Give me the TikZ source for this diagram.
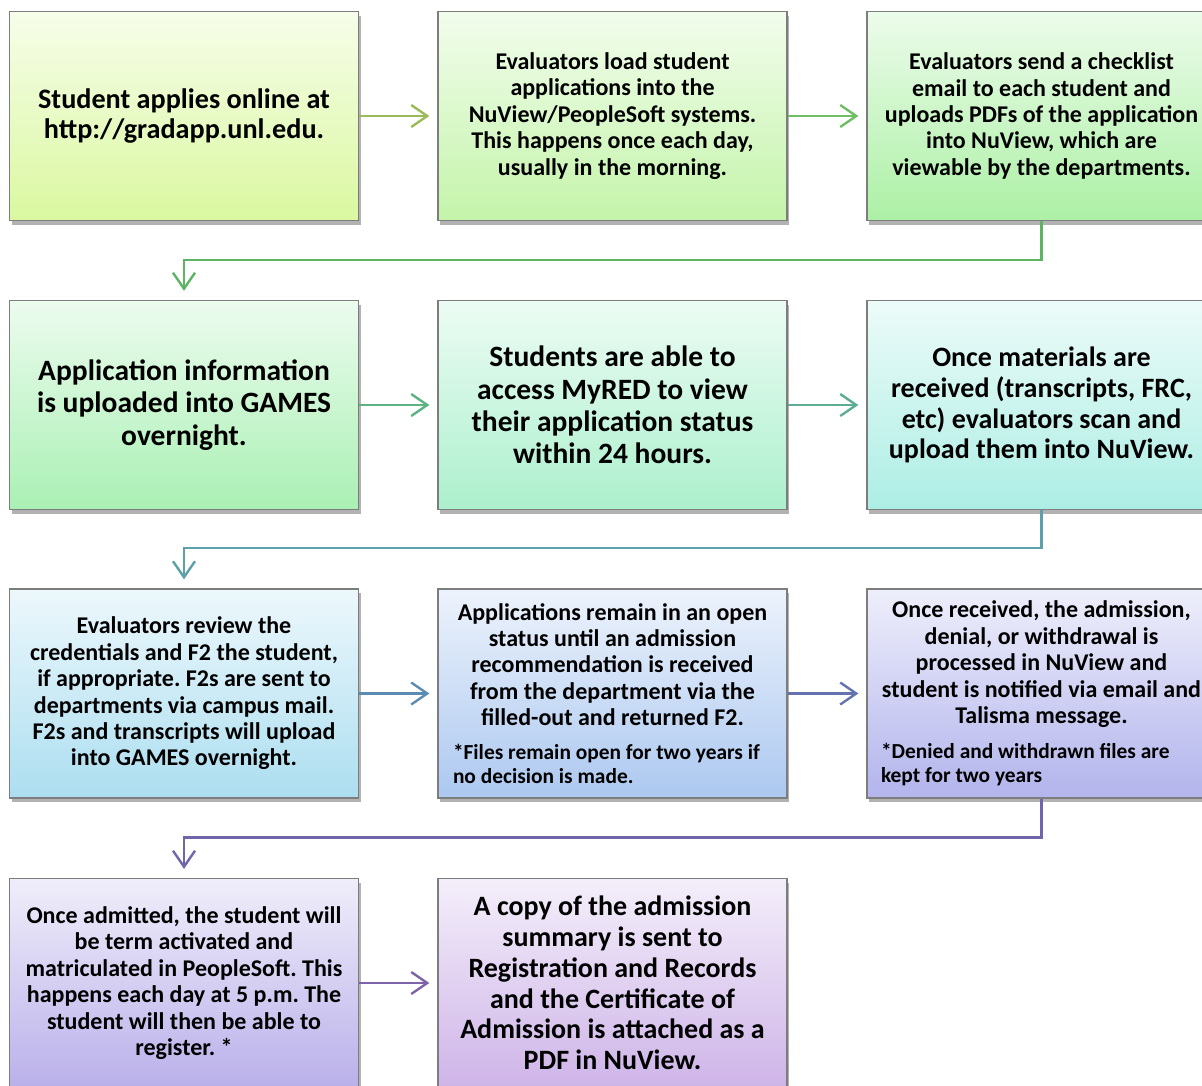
\documentclass[tikz,border=0pt]{standalone}
\usepackage{fontspec}
\setmainfont{Carlito}
\usetikzlibrary{arrows.meta,shadows}
\frenchspacing

\definecolor{boxA}{RGB}{218,248,160}
\definecolor{boxB}{RGB}{196,244,170}
\definecolor{boxC}{RGB}{172,240,165}
\definecolor{boxD}{RGB}{170,240,180}
\definecolor{boxE}{RGB}{172,240,205}
\definecolor{boxF}{RGB}{172,238,228}
\definecolor{boxG}{RGB}{172,222,240}
\definecolor{boxH}{RGB}{172,200,240}
\definecolor{boxI}{RGB}{178,180,236}
\definecolor{boxJ}{RGB}{186,176,234}
\definecolor{boxK}{RGB}{206,180,232}
\definecolor{lineA}{RGB}{155,187,89}
\definecolor{lineB}{RGB}{112,190,100}
\definecolor{lineC}{RGB}{92,180,100}
\definecolor{lineD}{RGB}{92,178,130}
\definecolor{lineE}{RGB}{92,172,150}
\definecolor{lineF}{RGB}{92,160,170}
\definecolor{lineG}{RGB}{92,140,180}
\definecolor{lineH}{RGB}{100,115,175}
\definecolor{lineI}{RGB}{112,100,170}
\definecolor{lineJ}{RGB}{125,100,170}
\definecolor{rim}{RGB}{125,125,125}

\newcommand{\fixedspace}{\spaceskip=\fontdimen2\font\relax\xspaceskip=\fontdimen2\font\relax}
\newcommand{\printsize}[2]{\bfseries\fontsize{#1}{#2}\selectfont}
\newcommand{\notetext}{\hyphenpenalty=10000\printsize{21.4}{24.5}\fixedspace}

\tikzset{
  stage/.style={draw=rim,line width=1.3pt,minimum width=349pt,minimum height=209pt,
    text width=345pt,align=center,inner sep=0pt,
    execute at begin node={\fixedspace},
    drop shadow={shadow xshift=2pt,shadow yshift=-4pt,opacity=0.3,fill=black}},
  tint/.style={top color=#1!22!white,bottom color=#1},
  small print/.style={font=\printsize{24}{26.4}},
  mid print/.style={font=\printsize{28}{30.8}},
  large print/.style={font=\printsize{29.5}{32.4}},
  flow/.style={line width=2.4pt,draw=#1,-{Straight Barb[length=16pt,width=22pt,line width=2.4pt]}},
}

\begin{document}
\begin{tikzpicture}[x=1pt,y=-1pt]
    \clip (0,0) rectangle (1202,1085);
    %% Row 1
    \node[stage,tint=boxA,font=\printsize{28.2}{30}] (apply) at (184,116) {Student applies online at\\ http://gradapp.unl.edu.};
    \node[stage,tint=boxB,small print] (load) at (612.5,116) {Evaluators load student\\ applications into the\\ NuView/PeopleSoft systems.\\ This happens once each day,\\ usually in the morning.};
    \node[stage,tint=boxC,small print] (checklist) at (1041.5,116) {Evaluators send a checklist\\ email to each student and\\ uploads PDFs of the application\\ into NuView, which are\\ viewable by the departments.};
    %% Row 2
    \node[stage,tint=boxD,large print] (games) at (184,405) {Application information\\ is uploaded into GAMES\\ overnight.};
    \node[stage,tint=boxE,large print] (myred) at (612.5,405) {Students are able to\\ access MyRED to view\\ their application status\\ within 24 hours.};
    \node[stage,tint=boxF,mid print] (scan) at (1041.5,405) {Once materials are\\ received (transcripts, FRC,\\ etc) evaluators scan and\\ upload them into NuView.};
    %% Row 3
    \node[stage,tint=boxG,small print] (review) at (184,693.5) {Evaluators review the\\ credentials and F2 the student,\\ if appropriate. F2s are sent to\\ departments via campus mail.\\ F2s and transcripts will upload\\ into GAMES overnight.};
    \node[stage,tint=boxH,small print] (open) at (612.5,693.5) {Applications remain in an open\\ status until an admission\\ recommendation is received\\ from the department via the\\ filled-out and returned F2.\par\vspace{9pt}%
      {\raggedright\leftskip=13pt\notetext *Files remain open for two years if\\ no decision is made.\par}};
    \node[stage,tint=boxI,small print] (decision) at (1041.5,693.5) {Once received, the admission,\\ denial, or withdrawal is\\ processed in NuView and\\ student is notified via email and\\ Talisma message.\par\vspace{10pt}%
      {\raggedright\leftskip=12pt\notetext *Denied and withdrawn files are\\ kept for two years\par}};
    %% Row 4
    \node[stage,tint=boxJ,small print] (admit) at (184,983) {Once admitted, the student will\\ be term activated and\\ matriculated in PeopleSoft. This\\ happens each day at 5 p.m. The\\ student will then be able to\\ register. *};
    \node[stage,tint=boxK,mid print] (summary) at (612.5,983) {A copy of the admission\\ summary is sent to\\ Registration and Records\\ and the Certificate of\\ Admission is attached as a\\ PDF in NuView.};
    %% Arrows
    \draw[flow=lineA,shorten >=8pt] (apply.east) -- (load.west);
    \draw[flow=lineB,shorten >=8pt] (load.east) -- (checklist.west);
    \draw[flow=lineC,shorten >=9pt] (checklist.south) -- ++(0,39) -| (games.north);
    \draw[flow=lineD,shorten >=8pt] (games.east) -- (myred.west);
    \draw[flow=lineE,shorten >=8pt] (myred.east) -- (scan.west);
    \draw[flow=lineF,shorten >=9pt] (scan.south) -- ++(0,38) -| (review.north);
    \draw[flow=lineG,shorten >=8pt] (review.east) -- (open.west);
    \draw[flow=lineH,shorten >=8pt] (open.east) -- (decision.west);
    \draw[flow=lineI,shorten >=9pt] (decision.south) -- ++(0,39) -| (admit.north);
    \draw[flow=lineJ,shorten >=8pt] (admit.east) -- (summary.west);
\end{tikzpicture}
\end{document}
